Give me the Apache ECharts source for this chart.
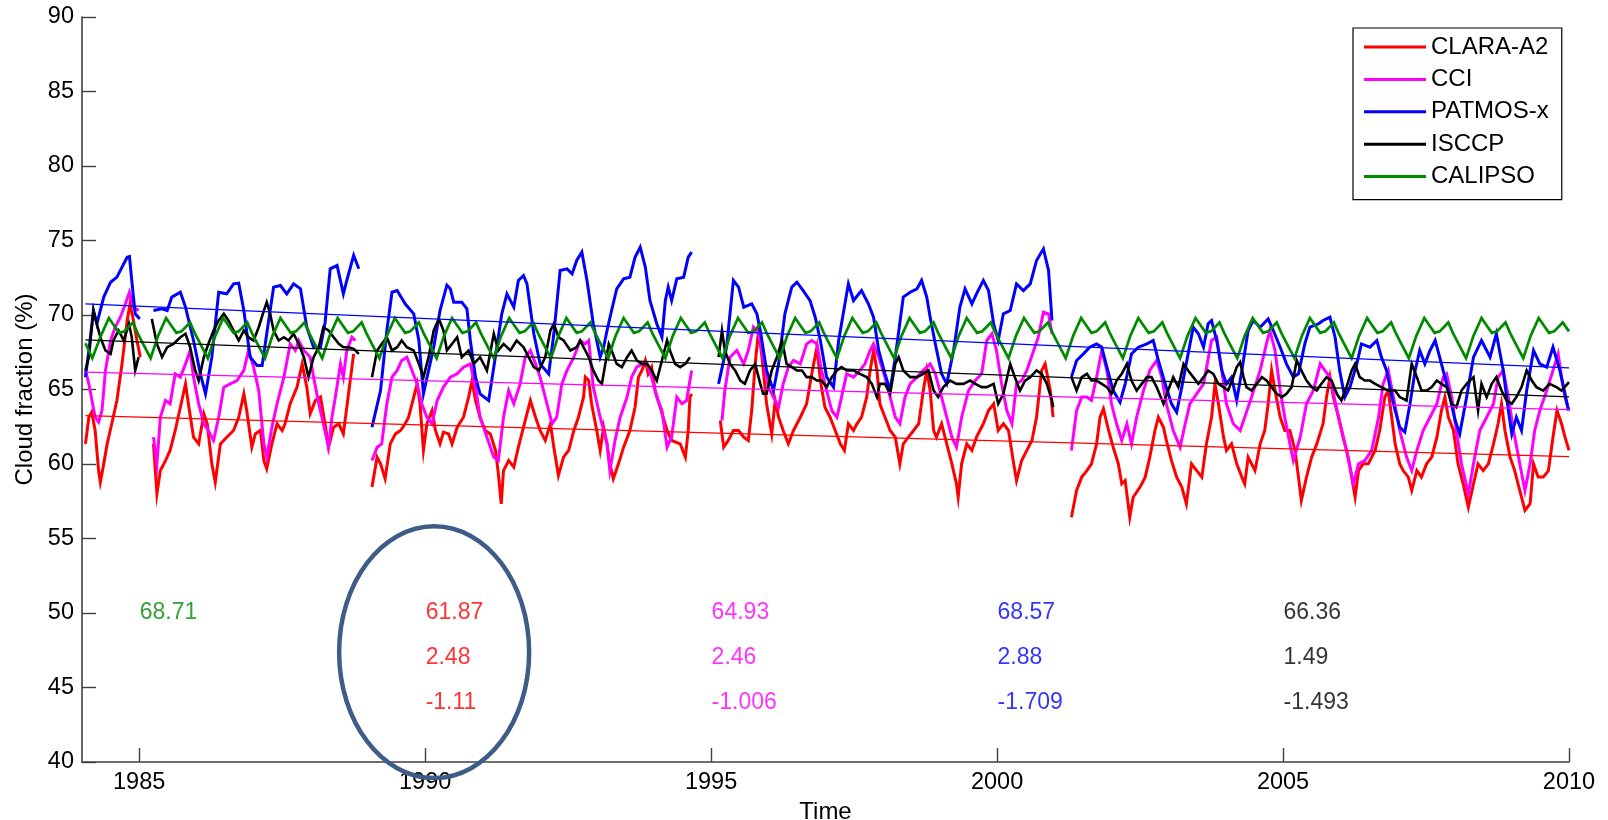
<!DOCTYPE html>
<html>
<head>
<meta charset="utf-8">
<script src="https://cdn.jsdelivr.net/npm/echarts@6/dist/echarts.min.js"></script>
<style>html,body{margin:0;padding:0;background:#fff;}#chart{width:1608px;height:820px;}</style>
</head>
<body>
<div id="chart"></div>
<script>
// ---------------- DATA ----------------
const seriesNames = ['CLARA-A2', 'CCI', 'PATMOS-x', 'ISCCP', 'CALIPSO'];
const seriesColors = ['#ff0000', '#ff00ff', '#0000ff', '#000000', '#008a00'];
const xTicks = [1985, 1990, 1995, 2000, 2005, 2010];

// CLARA-A2 (segments separated by data gaps)
const claraSeg1 = [[1984.06,61.35],[1984.12,63.14],[1984.17,63.48],[1984.23,62.25],[1984.29,59.56],[1984.32,58.78],[1984.38,60.01],[1984.44,61.35],[1984.52,62.70],[1984.61,64.26],[1984.70,66.72],[1984.79,69.63],[1984.84,70.75],[1984.90,69.63],[1984.96,68.29],[1985.02,67.17]];
const claraSeg2 = [[1985.25,61.35],[1985.31,58.00],[1985.37,59.56],[1985.46,60.23],[1985.54,60.91],[1985.63,62.25],[1985.72,63.81],[1985.81,65.38],[1985.86,64.04],[1985.95,61.80],[1986.04,61.35],[1986.13,63.37],[1986.19,62.70],[1986.27,60.01],[1986.33,58.78],[1986.42,61.35],[1986.53,61.80],[1986.65,62.25],[1986.74,63.14],[1986.83,64.71],[1986.88,63.59],[1986.97,61.13],[1987.03,62.02],[1987.12,62.25],[1987.18,60.23],[1987.23,59.67],[1987.32,61.35],[1987.41,62.70],[1987.50,62.25],[1987.55,62.70],[1987.64,64.04],[1987.76,65.16],[1987.85,66.72],[1987.93,65.16],[1987.99,63.37],[1988.08,64.26],[1988.17,64.49],[1988.25,62.70],[1988.31,61.13],[1988.40,62.47],[1988.49,62.70],[1988.57,62.02],[1988.66,64.71],[1988.75,67.39]];
const claraSeg3 = [[1989.07,58.45],[1989.16,60.46],[1989.22,60.01],[1989.30,59.01],[1989.39,61.35],[1989.48,62.02],[1989.57,62.25],[1989.65,62.70],[1989.71,63.14],[1989.80,64.49],[1989.86,65.38],[1989.91,64.04],[1989.97,60.91],[1990.03,62.70],[1990.12,63.59],[1990.18,62.25],[1990.26,61.35],[1990.32,62.13],[1990.41,62.02],[1990.47,61.35],[1990.56,62.47],[1990.67,63.14],[1990.76,64.49],[1990.82,65.60],[1990.88,64.26],[1990.96,63.14],[1991.05,62.25],[1991.14,62.02],[1991.23,60.91],[1991.28,59.34],[1991.33,57.33],[1991.37,59.56],[1991.46,60.23],[1991.55,59.79],[1991.63,61.13],[1991.75,62.92],[1991.84,64.26],[1991.93,63.14],[1992.01,62.25],[1992.10,61.58],[1992.19,62.70],[1992.25,61.13],[1992.33,59.23],[1992.42,60.46],[1992.51,60.91],[1992.60,62.25],[1992.68,63.14],[1992.77,64.50],[1992.80,65.83],[1992.86,65.60],[1992.91,64.04],[1993.00,62.25],[1993.06,60.91],[1993.12,62.47],[1993.18,61.35],[1993.23,60.01],[1993.29,59.01],[1993.38,60.01],[1993.47,61.13],[1993.58,62.25],[1993.67,63.81],[1993.73,65.83],[1993.79,66.28],[1993.85,66.95],[1993.90,66.05],[1993.96,66.50],[1994.02,64.93],[1994.11,63.81],[1994.23,62.25],[1994.31,61.58],[1994.46,61.35],[1994.55,60.46],[1994.60,62.25],[1994.63,64.49],[1994.66,64.71]];
const claraSeg4 = [[1995.16,62.92],[1995.22,61.13],[1995.30,61.58],[1995.39,62.25],[1995.48,62.25],[1995.57,61.80],[1995.65,61.58],[1995.71,63.59],[1995.77,66.72],[1995.83,68.96],[1995.89,67.17],[1995.97,64.04],[1996.06,62.02],[1996.12,64.26],[1996.18,63.14],[1996.26,62.25],[1996.35,61.35],[1996.44,62.25],[1996.56,63.14],[1996.67,64.04],[1996.76,66.05],[1996.85,67.84],[1996.91,65.60],[1996.99,63.81],[1997.08,63.14],[1997.17,62.25],[1997.26,61.35],[1997.33,60.91],[1997.40,62.70],[1997.49,62.25],[1997.55,62.70],[1997.63,63.14],[1997.72,64.49],[1997.78,66.28],[1997.84,67.62],[1997.90,66.28],[1997.95,64.04],[1998.04,63.14],[1998.13,62.25],[1998.22,61.80],[1998.30,60.01],[1998.36,61.35],[1998.45,61.80],[1998.54,62.25],[1998.63,62.70],[1998.71,64.93],[1998.77,66.28],[1998.83,64.93],[1998.89,62.25],[1998.94,61.80],[1999.03,62.70],[1999.12,61.35],[1999.21,60.01],[1999.29,58.67],[1999.32,57.77],[1999.38,60.01],[1999.47,61.35],[1999.56,60.91],[1999.64,61.80],[1999.76,62.70],[1999.85,63.59],[1999.94,64.04],[2000.02,62.25],[2000.11,62.70],[2000.20,62.25],[2000.29,60.01],[2000.34,58.89],[2000.43,60.23],[2000.52,60.91],[2000.61,61.58],[2000.69,63.14],[2000.78,66.28],[2000.84,66.72],[2000.93,64.93],[2000.98,63.14]];
const claraSeg5 = [[2001.30,56.43],[2001.39,58.22],[2001.48,59.12],[2001.57,59.56],[2001.65,60.01],[2001.74,61.35],[2001.80,63.14],[2001.86,63.70],[2001.95,62.25],[2002.03,61.13],[2002.12,60.01],[2002.18,58.67],[2002.24,58.89],[2002.32,56.43],[2002.38,57.77],[2002.50,58.45],[2002.59,59.12],[2002.67,60.46],[2002.76,62.25],[2002.82,63.14],[2002.91,62.47],[2002.96,61.58],[2003.05,60.23],[2003.14,59.12],[2003.23,58.45],[2003.31,57.33],[2003.40,60.01],[2003.49,59.56],[2003.58,59.12],[2003.66,61.35],[2003.75,63.14],[2003.81,65.38],[2003.87,64.04],[2003.96,61.80],[2004.01,60.91],[2004.10,61.35],[2004.19,60.01],[2004.28,59.12],[2004.33,58.67],[2004.39,60.46],[2004.45,60.01],[2004.51,59.56],[2004.60,61.35],[2004.68,62.25],[2004.74,64.04],[2004.80,66.28],[2004.86,64.93],[2004.95,63.14],[2005.03,62.25],[2005.12,62.25],[2005.21,60.91],[2005.27,59.12],[2005.32,57.55],[2005.41,59.12],[2005.50,60.46],[2005.59,61.35],[2005.70,62.70],[2005.76,64.49],[2005.82,65.83],[2005.88,64.49],[2005.97,63.14],[2006.05,61.80],[2006.14,60.46],[2006.20,59.12],[2006.26,57.77],[2006.32,59.56],[2006.40,60.01],[2006.49,60.01],[2006.61,60.91],[2006.69,62.25],[2006.78,64.49],[2006.84,64.93],[2006.90,63.14],[2006.96,61.35],[2007.04,60.01],[2007.10,59.56],[2007.19,59.12],[2007.25,58.22],[2007.34,59.56],[2007.42,59.12],[2007.51,60.01],[2007.60,60.46],[2007.69,61.80],[2007.77,63.59],[2007.83,64.49],[2007.89,63.14],[2007.98,62.25],[2008.06,60.01],[2008.15,58.67],[2008.24,57.10],[2008.33,58.67],[2008.41,60.01],[2008.50,59.56],[2008.59,60.01],[2008.68,61.35],[2008.76,62.70],[2008.82,64.04],[2008.88,62.25],[2008.97,60.46],[2009.05,59.56],[2009.14,58.22],[2009.23,56.88],[2009.32,57.33],[2009.38,60.01],[2009.46,59.12],[2009.55,59.12],[2009.64,59.56],[2009.72,61.80],[2009.79,63.59],[2009.87,62.70],[2009.93,61.80],[2010.00,60.91]];

// CCI
const cciSeg1 = [[1984.06,66.28],[1984.12,65.38],[1984.23,63.14],[1984.29,62.81],[1984.35,63.59],[1984.41,66.28],[1984.50,68.29],[1984.58,69.18],[1984.67,69.85],[1984.76,70.75],[1984.83,71.53],[1984.90,70.53],[1984.99,70.30]];
const cciSeg2 = [[1985.25,61.80],[1985.31,60.01],[1985.37,63.14],[1985.46,64.26],[1985.54,64.04],[1985.63,66.05],[1985.72,65.83],[1985.81,66.72],[1985.89,67.62],[1985.95,65.83],[1986.04,64.04],[1986.13,62.70],[1986.21,62.25],[1986.30,61.58],[1986.39,63.14],[1986.48,65.16],[1986.59,65.38],[1986.71,65.60],[1986.83,66.28],[1986.91,67.62],[1987.00,66.50],[1987.09,64.93],[1987.18,61.35],[1987.23,60.46],[1987.32,62.47],[1987.41,64.04],[1987.53,65.83],[1987.64,68.06],[1987.73,67.62],[1987.79,68.29],[1987.88,67.62],[1987.99,67.17],[1988.05,65.83],[1988.14,64.04],[1988.22,62.70],[1988.31,61.13],[1988.37,63.14],[1988.43,64.49],[1988.52,66.72],[1988.57,65.83],[1988.63,67.62],[1988.72,68.51],[1988.78,68.29]];
const cciSeg3 = [[1989.07,60.23],[1989.16,61.13],[1989.24,61.35],[1989.33,64.04],[1989.42,65.83],[1989.51,66.28],[1989.59,66.95],[1989.68,67.17],[1989.77,66.28],[1989.86,65.38],[1989.94,64.04],[1990.03,63.14],[1990.12,62.70],[1990.21,64.26],[1990.32,65.16],[1990.44,65.83],[1990.56,66.05],[1990.67,66.50],[1990.79,66.72],[1990.88,65.16],[1990.96,63.14],[1991.08,61.80],[1991.20,60.46],[1991.28,60.23],[1991.37,63.14],[1991.46,64.93],[1991.55,64.04],[1991.66,65.38],[1991.75,67.17],[1991.84,67.62],[1991.93,66.72],[1992.01,65.83],[1992.13,64.04],[1992.22,62.70],[1992.30,63.14],[1992.39,65.38],[1992.48,66.28],[1992.60,67.17],[1992.71,68.29],[1992.80,68.06],[1992.86,68.29],[1992.94,65.16],[1993.06,63.14],[1993.18,61.35],[1993.23,59.56],[1993.32,61.58],[1993.41,63.14],[1993.53,64.49],[1993.61,65.83],[1993.70,66.50],[1993.79,66.72],[1993.88,66.72],[1993.96,65.83],[1994.05,64.49],[1994.14,63.59],[1994.23,61.13],[1994.31,61.80],[1994.40,64.49],[1994.49,64.04],[1994.57,64.26],[1994.66,66.28]];
const cciSeg4 = [[1995.19,62.92],[1995.24,64.93],[1995.33,67.17],[1995.45,67.62],[1995.57,66.72],[1995.65,67.62],[1995.74,69.18],[1995.83,68.74],[1995.91,67.17],[1996.00,65.16],[1996.09,64.49],[1996.18,63.81],[1996.26,65.38],[1996.35,66.50],[1996.44,66.95],[1996.56,66.72],[1996.67,68.06],[1996.76,68.29],[1996.85,68.06],[1996.93,66.28],[1997.02,64.93],[1997.11,63.59],[1997.20,63.14],[1997.28,64.49],[1997.37,66.05],[1997.49,65.83],[1997.60,66.28],[1997.69,66.72],[1997.78,67.62],[1997.84,68.06],[1997.93,67.17],[1998.04,65.83],[1998.13,64.49],[1998.22,63.14],[1998.30,62.70],[1998.39,64.49],[1998.48,65.38],[1998.60,65.83],[1998.71,66.28],[1998.83,66.72],[1998.92,66.05],[1999.00,64.93],[1999.12,63.14],[1999.21,61.80],[1999.29,61.13],[1999.38,63.14],[1999.50,64.93],[1999.62,65.60],[1999.73,66.05],[1999.82,68.29],[1999.91,68.74],[1999.99,67.62],[2000.08,65.38],[2000.17,63.59],[2000.26,62.70],[2000.34,65.38],[2000.43,65.60],[2000.52,66.28],[2000.64,67.62],[2000.72,68.51],[2000.81,70.19],[2000.90,70.08],[2000.96,68.74]];
const cciSeg5 = [[2001.30,60.91],[2001.39,63.59],[2001.48,64.49],[2001.57,64.49],[2001.65,64.26],[2001.74,65.83],[2001.83,67.62],[2001.92,66.28],[2002.00,64.04],[2002.09,62.70],[2002.18,61.58],[2002.27,62.70],[2002.35,61.35],[2002.44,63.14],[2002.56,64.93],[2002.67,66.28],[2002.79,66.95],[2002.88,65.83],[2002.96,64.04],[2003.08,62.25],[2003.20,61.13],[2003.29,62.70],[2003.37,64.04],[2003.49,64.71],[2003.61,65.38],[2003.75,68.29],[2003.84,68.51],[2003.93,66.28],[2004.01,64.04],[2004.13,62.70],[2004.25,62.25],[2004.33,63.14],[2004.45,64.49],[2004.60,66.28],[2004.71,68.06],[2004.77,68.96],[2004.86,67.62],[2004.95,64.93],[2005.03,63.14],[2005.12,61.35],[2005.18,60.23],[2005.30,61.80],[2005.41,64.04],[2005.53,64.93],[2005.65,66.72],[2005.73,66.28],[2005.82,65.83],[2005.97,63.14],[2006.11,60.91],[2006.23,58.67],[2006.32,60.01],[2006.43,60.23],[2006.55,60.91],[2006.67,63.14],[2006.75,65.38],[2006.84,66.28],[2006.93,64.49],[2007.04,62.25],[2007.16,60.46],[2007.25,59.56],[2007.34,60.91],[2007.45,62.25],[2007.57,63.14],[2007.69,64.04],[2007.80,65.83],[2007.86,66.05],[2007.95,64.49],[2008.03,62.25],[2008.12,60.01],[2008.24,58.00],[2008.33,60.01],[2008.44,62.25],[2008.56,63.14],[2008.68,64.04],[2008.76,65.83],[2008.85,66.28],[2008.94,64.49],[2009.03,62.25],[2009.14,60.01],[2009.23,58.22],[2009.32,60.01],[2009.40,62.25],[2009.49,63.59],[2009.61,64.93],[2009.72,66.28],[2009.81,67.39],[2009.87,65.83],[2009.93,64.49],[2010.00,63.59]];

// PATMOS-x
const patmosSeg1 = [[1984.06,65.83],[1984.12,67.60],[1984.20,70.30],[1984.26,69.41],[1984.38,71.20],[1984.50,72.20],[1984.61,72.54],[1984.70,73.21],[1984.79,73.88],[1984.83,73.93],[1984.87,72.32],[1984.93,70.08],[1985.01,69.74]];
const patmosSeg2 = [[1985.25,70.30],[1985.40,70.41],[1985.49,70.30],[1985.57,71.20],[1985.72,71.53],[1985.81,70.53],[1985.95,68.29],[1986.07,66.05],[1986.16,64.71],[1986.27,67.17],[1986.39,71.53],[1986.53,71.42],[1986.65,72.09],[1986.74,72.14],[1986.83,70.30],[1986.94,67.17],[1987.06,66.61],[1987.15,66.61],[1987.23,68.74],[1987.35,71.87],[1987.47,71.98],[1987.58,71.42],[1987.70,72.09],[1987.82,71.76],[1987.93,69.18],[1988.05,67.84],[1988.17,67.84],[1988.25,69.50],[1988.34,73.10],[1988.46,73.32],[1988.57,71.42],[1988.63,72.32],[1988.75,74.00],[1988.84,73.10]];
const patmosSeg3 = [[1989.07,62.47],[1989.22,64.93],[1989.33,68.96],[1989.42,71.53],[1989.51,71.64],[1989.65,70.75],[1989.80,70.08],[1989.89,68.29],[1989.97,64.71],[1990.06,66.28],[1990.15,67.84],[1990.26,70.30],[1990.38,72.00],[1990.44,71.76],[1990.50,70.86],[1990.64,70.86],[1990.73,70.41],[1990.79,68.29],[1990.88,65.83],[1990.96,64.71],[1991.11,64.26],[1991.20,66.50],[1991.34,70.08],[1991.43,71.42],[1991.55,70.53],[1991.63,72.32],[1991.72,72.65],[1991.78,72.09],[1991.90,68.74],[1992.01,66.72],[1992.16,66.05],[1992.25,68.74],[1992.36,72.99],[1992.48,73.10],[1992.57,72.76],[1992.65,73.66],[1992.74,74.22],[1992.83,72.32],[1992.94,69.41],[1993.06,67.17],[1993.12,67.84],[1993.18,68.96],[1993.26,70.30],[1993.35,71.76],[1993.47,72.43],[1993.58,72.54],[1993.67,73.88],[1993.76,74.55],[1993.85,73.21],[1993.93,70.97],[1994.05,69.41],[1994.14,68.51],[1994.20,70.97],[1994.25,71.87],[1994.31,70.97],[1994.40,72.43],[1994.52,72.54],[1994.60,73.88],[1994.66,74.22]];
const patmosSeg4 = [[1995.13,65.38],[1995.27,67.84],[1995.39,72.32],[1995.48,71.87],[1995.57,70.53],[1995.71,70.75],[1995.80,70.08],[1995.86,68.96],[1995.97,66.28],[1996.09,64.93],[1996.18,66.72],[1996.29,70.08],[1996.41,71.87],[1996.50,72.20],[1996.61,71.64],[1996.73,70.97],[1996.82,69.85],[1996.91,68.29],[1997.02,65.83],[1997.14,65.16],[1997.23,68.29],[1997.31,70.08],[1997.40,72.09],[1997.49,70.97],[1997.63,71.64],[1997.75,70.75],[1997.84,69.85],[1997.93,67.62],[1998.04,66.05],[1998.13,64.93],[1998.22,67.17],[1998.36,71.20],[1998.48,71.53],[1998.60,71.76],[1998.68,72.32],[1998.77,71.20],[1998.83,69.85],[1998.92,68.06],[1999.03,66.05],[1999.12,65.38],[1999.24,67.62],[1999.35,70.53],[1999.44,71.76],[1999.56,70.75],[1999.64,71.42],[1999.76,72.32],[1999.85,71.64],[1999.94,69.41],[2000.02,68.29],[2000.11,70.08],[2000.23,70.30],[2000.34,72.09],[2000.46,71.64],[2000.58,72.09],[2000.69,73.66],[2000.81,74.44],[2000.90,72.99],[2000.96,69.63]];
const patmosSeg5 = [[2001.30,65.83],[2001.39,66.95],[2001.51,67.39],[2001.62,67.84],[2001.74,68.06],[2001.83,67.84],[2001.92,66.50],[2002.03,64.93],[2002.15,64.15],[2002.24,65.38],[2002.35,67.39],[2002.47,67.84],[2002.62,68.06],[2002.73,68.29],[2002.82,66.95],[2002.94,65.38],[2003.05,64.04],[2003.14,63.48],[2003.23,65.16],[2003.34,67.39],[2003.43,69.18],[2003.52,68.74],[2003.61,67.84],[2003.69,69.41],[2003.75,69.63],[2003.84,68.29],[2003.93,66.28],[2004.01,65.38],[2004.10,65.83],[2004.19,64.26],[2004.28,66.28],[2004.39,68.96],[2004.48,69.63],[2004.60,69.18],[2004.74,69.74],[2004.83,68.96],[2004.95,67.84],[2005.06,66.72],[2005.18,65.83],[2005.27,66.05],[2005.38,68.06],[2005.47,69.18],[2005.62,69.41],[2005.70,69.63],[2005.82,69.85],[2005.91,68.51],[2005.99,66.28],[2006.08,64.49],[2006.17,65.16],[2006.29,66.72],[2006.37,68.06],[2006.52,67.84],[2006.64,68.29],[2006.72,67.17],[2006.81,66.28],[2006.93,64.04],[2007.04,62.47],[2007.13,62.14],[2007.22,64.04],[2007.31,66.28],[2007.39,67.62],[2007.48,66.72],[2007.57,67.62],[2007.66,68.29],[2007.77,66.72],[2007.89,64.93],[2008.01,62.92],[2008.09,62.02],[2008.21,64.49],[2008.33,67.17],[2008.47,68.29],[2008.62,67.17],[2008.73,68.74],[2008.85,66.28],[2008.94,63.59],[2009.00,62.02],[2009.08,63.14],[2009.17,62.25],[2009.26,64.93],[2009.38,67.62],[2009.49,66.72],[2009.61,66.50],[2009.72,67.84],[2009.84,66.28],[2009.93,64.71],[2009.99,63.59]];

// ISCCP
const isccpSeg1 = [[1984.06,66.28],[1984.12,67.17],[1984.20,70.30],[1984.26,69.41],[1984.32,68.51],[1984.41,67.62],[1984.50,67.39],[1984.55,68.29],[1984.64,68.96],[1984.73,68.29],[1984.82,69.41],[1984.87,68.51],[1984.93,66.28],[1984.99,67.17]];
const isccpSeg2 = [[1985.22,69.74],[1985.31,68.06],[1985.40,67.17],[1985.49,67.84],[1985.60,68.06],[1985.72,68.51],[1985.81,68.74],[1985.89,67.84],[1985.98,66.28],[1986.04,65.60],[1986.13,67.17],[1986.21,68.06],[1986.30,68.96],[1986.39,69.63],[1986.48,70.08],[1986.56,69.63],[1986.65,68.96],[1986.74,68.29],[1986.83,68.96],[1986.91,68.51],[1987.00,68.29],[1987.09,69.18],[1987.18,70.30],[1987.23,70.86],[1987.29,70.08],[1987.35,68.96],[1987.44,68.29],[1987.53,68.51],[1987.61,68.29],[1987.70,68.74],[1987.79,68.06],[1987.88,67.17],[1987.96,65.83],[1988.05,67.17],[1988.14,67.84],[1988.22,69.18],[1988.31,68.96],[1988.40,68.51],[1988.49,68.06],[1988.57,67.84],[1988.66,67.84],[1988.75,67.73],[1988.84,67.39]];
const isccpSeg3 = [[1989.07,65.83],[1989.16,67.62],[1989.24,68.06],[1989.33,68.51],[1989.42,67.62],[1989.51,67.84],[1989.59,68.29],[1989.68,67.84],[1989.80,67.62],[1989.89,66.72],[1989.97,65.83],[1990.06,67.17],[1990.15,68.96],[1990.24,69.74],[1990.32,68.96],[1990.38,67.62],[1990.47,68.06],[1990.56,68.51],[1990.64,67.17],[1990.76,67.62],[1990.85,66.72],[1990.96,67.17],[1991.08,66.28],[1991.20,68.74],[1991.28,67.62],[1991.37,68.06],[1991.49,67.62],[1991.60,68.29],[1991.72,67.84],[1991.81,67.17],[1991.90,66.50],[1991.99,66.28],[1992.10,67.17],[1992.19,68.96],[1992.25,69.41],[1992.33,68.51],[1992.42,68.29],[1992.54,67.62],[1992.65,67.84],[1992.71,68.29],[1992.77,67.84],[1992.86,67.17],[1992.94,66.28],[1993.03,65.60],[1993.09,65.38],[1993.15,66.72],[1993.21,68.06],[1993.26,67.62],[1993.35,66.72],[1993.44,66.50],[1993.53,67.17],[1993.61,67.62],[1993.70,66.95],[1993.79,66.72],[1993.88,66.72],[1993.96,66.28],[1994.05,65.60],[1994.14,66.95],[1994.23,68.29],[1994.28,67.62],[1994.37,66.72],[1994.46,66.50],[1994.55,66.72],[1994.63,67.17]];
const isccpSeg4 = [[1995.13,67.17],[1995.19,68.96],[1995.24,67.62],[1995.33,66.72],[1995.42,66.28],[1995.51,65.60],[1995.59,65.38],[1995.68,66.28],[1995.77,66.72],[1995.86,65.38],[1995.91,64.71],[1995.97,64.71],[1996.06,66.28],[1996.15,67.17],[1996.24,68.29],[1996.32,66.72],[1996.41,66.50],[1996.50,66.28],[1996.59,66.28],[1996.67,65.83],[1996.76,65.83],[1996.85,65.60],[1996.93,65.60],[1997.02,65.16],[1997.11,65.83],[1997.20,66.28],[1997.28,66.50],[1997.37,66.28],[1997.49,66.28],[1997.60,66.05],[1997.72,65.83],[1997.81,65.38],[1997.90,64.49],[1997.95,65.38],[1998.04,65.38],[1998.13,64.71],[1998.22,66.72],[1998.28,67.17],[1998.36,66.28],[1998.48,65.83],[1998.60,65.83],[1998.71,66.05],[1998.80,66.28],[1998.89,64.93],[1998.97,64.49],[1999.06,65.16],[1999.18,65.60],[1999.29,65.38],[1999.41,65.38],[1999.53,65.60],[1999.62,65.38],[1999.73,65.16],[1999.82,65.16],[1999.94,65.38],[2000.02,64.04],[2000.11,64.71],[2000.23,66.72],[2000.31,65.83],[2000.40,64.93],[2000.49,65.60],[2000.58,65.83],[2000.69,66.28],[2000.78,66.05],[2000.87,65.38],[2000.96,64.26],[2000.98,63.81]];
const isccpSeg5 = [[2001.30,65.83],[2001.39,64.93],[2001.48,65.83],[2001.57,66.05],[2001.65,65.60],[2001.74,65.60],[2001.83,65.38],[2001.92,65.16],[2002.00,64.71],[2002.09,65.60],[2002.18,66.05],[2002.27,66.72],[2002.35,65.60],[2002.44,64.93],[2002.53,65.38],[2002.62,65.83],[2002.70,65.83],[2002.79,65.16],[2002.91,64.04],[2002.99,64.93],[2003.08,65.83],[2003.17,65.16],[2003.26,66.72],[2003.34,66.28],[2003.43,65.83],[2003.52,65.38],[2003.61,65.83],[2003.69,66.28],[2003.78,66.05],[2003.87,65.38],[2003.96,65.16],[2004.04,64.93],[2004.13,65.83],[2004.19,66.50],[2004.25,66.84],[2004.31,65.83],[2004.36,65.16],[2004.45,64.93],[2004.54,65.38],[2004.63,65.83],[2004.71,65.60],[2004.80,65.16],[2004.89,64.71],[2004.98,64.49],[2005.06,64.71],[2005.15,65.16],[2005.24,66.95],[2005.32,66.28],[2005.41,65.60],[2005.50,65.16],[2005.59,64.93],[2005.67,65.38],[2005.76,65.83],[2005.85,65.60],[2005.94,64.71],[2006.02,64.26],[2006.11,65.16],[2006.20,66.28],[2006.26,66.72],[2006.34,65.83],[2006.43,65.60],[2006.52,65.60],[2006.61,65.38],[2006.72,65.16],[2006.84,64.93],[2006.96,64.93],[2007.04,64.49],[2007.16,64.26],[2007.25,66.72],[2007.34,65.83],[2007.42,64.93],[2007.51,64.93],[2007.60,65.16],[2007.69,65.60],[2007.77,65.38],[2007.86,65.16],[2007.95,64.04],[2008.03,63.81],[2008.12,64.93],[2008.21,65.38],[2008.33,65.83],[2008.41,63.59],[2008.47,65.38],[2008.56,64.49],[2008.65,65.38],[2008.73,65.83],[2008.82,64.93],[2008.91,64.26],[2009.00,64.04],[2009.08,64.49],[2009.17,65.16],[2009.26,66.28],[2009.35,65.60],[2009.43,65.16],[2009.55,64.93],[2009.66,65.38],[2009.78,65.16],[2009.87,64.93],[2010.00,65.49]];

// CALIPSO (continuous)
const calipso = [
[1984.06,68.1],[1984.18,67.1],[1984.33,68.6],[1984.47,69.8],[1984.56,69.3],[1984.65,68.8],[1984.74,68.9],[1984.89,69.5],[1984.97,68.8],
[1985.05,68.2],[1985.20,67.1],[1985.33,68.6],[1985.47,69.8],[1985.56,69.3],[1985.65,68.8],[1985.74,68.9],[1985.89,69.5],[1985.97,68.8],
[1986.05,68.2],[1986.20,67.1],[1986.33,68.6],[1986.47,69.8],[1986.56,69.3],[1986.65,68.8],[1986.74,68.9],[1986.89,69.5],[1986.97,68.8],
[1987.05,68.2],[1987.20,67.1],[1987.33,68.6],[1987.47,69.8],[1987.56,69.3],[1987.65,68.8],[1987.74,68.9],[1987.89,69.5],[1987.97,68.8],
[1988.05,68.2],[1988.20,67.1],[1988.33,68.6],[1988.47,69.8],[1988.56,69.3],[1988.65,68.8],[1988.74,68.9],[1988.89,69.5],[1988.97,68.8],
[1989.05,68.2],[1989.20,67.1],[1989.33,68.6],[1989.47,69.8],[1989.56,69.3],[1989.65,68.8],[1989.74,68.9],[1989.89,69.5],[1989.97,68.8],
[1990.05,68.2],[1990.20,67.1],[1990.33,68.6],[1990.47,69.8],[1990.56,69.3],[1990.65,68.8],[1990.74,68.9],[1990.89,69.5],[1990.97,68.8],
[1991.05,68.2],[1991.20,67.1],[1991.33,68.6],[1991.47,69.8],[1991.56,69.3],[1991.65,68.8],[1991.74,68.9],[1991.89,69.5],[1991.97,68.8],
[1992.05,68.2],[1992.20,67.1],[1992.33,68.6],[1992.47,69.8],[1992.56,69.3],[1992.65,68.8],[1992.74,68.9],[1992.89,69.5],[1992.97,68.8],
[1993.05,68.2],[1993.20,67.1],[1993.33,68.6],[1993.47,69.8],[1993.56,69.3],[1993.65,68.8],[1993.74,68.9],[1993.89,69.5],[1993.97,68.8],
[1994.05,68.2],[1994.20,67.1],[1994.33,68.6],[1994.47,69.8],[1994.56,69.3],[1994.65,68.8],[1994.74,68.9],[1994.89,69.5],[1994.97,68.8],
[1995.05,68.2],[1995.20,67.1],[1995.33,68.6],[1995.47,69.8],[1995.56,69.3],[1995.65,68.8],[1995.74,68.9],[1995.89,69.5],[1995.97,68.8],
[1996.05,68.2],[1996.20,67.1],[1996.33,68.6],[1996.47,69.8],[1996.56,69.3],[1996.65,68.8],[1996.74,68.9],[1996.89,69.5],[1996.97,68.8],
[1997.05,68.2],[1997.20,67.1],[1997.33,68.6],[1997.47,69.8],[1997.56,69.3],[1997.65,68.8],[1997.74,68.9],[1997.89,69.5],[1997.97,68.8],
[1998.05,68.2],[1998.20,67.1],[1998.33,68.6],[1998.47,69.8],[1998.56,69.3],[1998.65,68.8],[1998.74,68.9],[1998.89,69.5],[1998.97,68.8],
[1999.05,68.2],[1999.20,67.1],[1999.33,68.6],[1999.47,69.8],[1999.56,69.3],[1999.65,68.8],[1999.74,68.9],[1999.89,69.5],[1999.97,68.8],
[2000.05,68.2],[2000.20,67.1],[2000.33,68.6],[2000.47,69.8],[2000.56,69.3],[2000.65,68.8],[2000.74,68.9],[2000.89,69.5],[2000.97,68.8],
[2001.05,68.2],[2001.20,67.1],[2001.33,68.6],[2001.47,69.8],[2001.56,69.3],[2001.65,68.8],[2001.74,68.9],[2001.89,69.5],[2001.97,68.8],
[2002.05,68.2],[2002.20,67.1],[2002.33,68.6],[2002.47,69.8],[2002.56,69.3],[2002.65,68.8],[2002.74,68.9],[2002.89,69.5],[2002.97,68.8],
[2003.05,68.2],[2003.20,67.1],[2003.33,68.6],[2003.47,69.8],[2003.56,69.3],[2003.65,68.8],[2003.74,68.9],[2003.89,69.5],[2003.97,68.8],
[2004.05,68.2],[2004.20,67.1],[2004.33,68.6],[2004.47,69.8],[2004.56,69.3],[2004.65,68.8],[2004.74,68.9],[2004.89,69.5],[2004.97,68.8],
[2005.05,68.2],[2005.20,67.1],[2005.33,68.6],[2005.47,69.8],[2005.56,69.3],[2005.65,68.8],[2005.74,68.9],[2005.89,69.5],[2005.97,68.8],
[2006.05,68.2],[2006.20,67.1],[2006.33,68.6],[2006.47,69.8],[2006.56,69.3],[2006.65,68.8],[2006.74,68.9],[2006.89,69.5],[2006.97,68.8],
[2007.05,68.2],[2007.20,67.1],[2007.33,68.6],[2007.47,69.8],[2007.56,69.3],[2007.65,68.8],[2007.74,68.9],[2007.89,69.5],[2007.97,68.8],
[2008.05,68.2],[2008.20,67.1],[2008.33,68.6],[2008.47,69.8],[2008.56,69.3],[2008.65,68.8],[2008.74,68.9],[2008.89,69.5],[2008.97,68.8],
[2009.05,68.2],[2009.20,67.1],[2009.33,68.6],[2009.47,69.8],[2009.56,69.3],[2009.65,68.8],[2009.74,68.9],[2009.89,69.5],[2010.00,68.9]
];

// Linear trend lines (start / end)
const claraTrend = [[1984.06,63.25],[2010.00,60.50]];
const cciTrend = [[1984.06,66.16],[2010.00,63.65]];
const patmosTrend = [[1984.06,70.75],[2010.00,66.45]];
const isccpTrend = [[1984.06,68.33],[2010.00,64.50]];

// Annotation text (columns left-aligned at year, rows at y-values)
const annotYears = [1985, 1990, 1995, 2000, 2005];
const annotRowY = [50, 47, 44];
const annotMeans = ['68.71', '61.87', '64.93', '68.57', '66.36'];
const annotStd = ['', '2.48', '2.46', '2.88', '1.49'];
const annotTrend = ['', '-1.11', '-1.006', '-1.709', '-1.493'];
const annotColors = ['#008a00', '#ff0000', '#ff00ff', '#0000ff', '#000000'];

// Highlight ellipse (data coordinates)
const ellipseCenter = [1990.157, 47.37];
const ellipseRadius = [1.661, 8.45];

// ---------------- CHART ----------------
const FONT = "'Liberation Sans', Arial, Helvetica, sans-serif";
function joinSegs(segs) {
  const out = [];
  segs.forEach((s, i) => {
    if (i > 0) out.push([(segs[i-1][segs[i-1].length-1][0] + s[0][0]) / 2, null]);
    s.forEach(p => out.push(p));
  });
  return out;
}
const dataSets = [
  joinSegs([claraSeg1, claraSeg2, claraSeg3, claraSeg4, claraSeg5]),
  joinSegs([cciSeg1, cciSeg2, cciSeg3, cciSeg4, cciSeg5]),
  joinSegs([patmosSeg1, patmosSeg2, patmosSeg3, patmosSeg4, patmosSeg5]),
  joinSegs([isccpSeg1, isccpSeg2, isccpSeg3, isccpSeg4, isccpSeg5]),
  calipso
];
const widths = [3, 3, 3, 2.6, 2.7];
const series = seriesNames.map((n, i) => ({
  name: n, type: 'line', data: dataSets[i], showSymbol: false, symbol: 'none',
  connectNulls: false, color: seriesColors[i],
  lineStyle: { color: seriesColors[i], width: widths[i], join: 'miter' }, z: 2 + i
}));
[claraTrend, cciTrend, patmosTrend, isccpTrend].forEach((t, i) => {
  series.push({ name: 'trend' + i, type: 'line', data: t, symbol: 'none', silent: true,
    lineStyle: { color: seriesColors[i], width: 1.3 }, z: 10 });
});
const annotData = [];
annotYears.forEach((yr, i) => {
  [annotMeans[i], annotStd[i], annotTrend[i]].forEach((txt, r) => {
    if (txt) annotData.push({ value: [yr, annotRowY[r]], label: { formatter: txt, color: annotColors[i] } });
  });
});
series.push({
  name: 'annot', type: 'scatter', data: annotData, symbolSize: 1, silent: true,
  itemStyle: { color: 'transparent' },
  label: { show: true, position: 'right', distance: 0, fontSize: 23, fontFamily: FONT },
  z: 20
});

const chart = echarts.init(document.getElementById('chart'), null, { renderer: 'canvas' });
const axisColor = '#404040';
chart.setOption({
  animation: false,
  backgroundColor: '#ffffff',
  grid: { left: 82, right: 39, top: 17, bottom: 58, containLabel: false, outerBoundsMode: 'none' },
  legend: {
    data: seriesNames, orient: 'vertical', left: 1353, top: 28,
    icon: 'rect', itemWidth: 62, itemHeight: 3, itemGap: 8.4,
    padding: [7, 13, 11, 11], borderColor: '#000', borderWidth: 1.2,
    textStyle: { fontSize: 24, lineHeight: 24, color: '#000', fontFamily: FONT },
    selectedMode: false
  },
  xAxis: {
    type: 'value', min: 1984, max: 2010,
    name: 'Time', nameLocation: 'middle', nameGap: 36,
    nameTextStyle: { fontSize: 24, color: '#000', fontFamily: FONT },
    axisLine: { show: true, lineStyle: { color: axisColor, width: 1.6 } },
    axisTick: { show: true, inside: true, length: 14, customValues: xTicks, lineStyle: { color: axisColor, width: 1.4 } },
    axisLabel: { customValues: xTicks, formatter: v => String(v), fontSize: 23.5, color: '#000', fontFamily: FONT, margin: 9 },
    splitLine: { show: false }
  },
  yAxis: {
    type: 'value', min: 40, max: 90, interval: 5,
    name: 'Cloud fraction (%)', nameLocation: 'middle', nameGap: 44, nameRotate: 90,
    nameTextStyle: { fontSize: 24, color: '#000', fontFamily: FONT },
    axisLine: { show: true, lineStyle: { color: axisColor, width: 1.6 } },
    axisTick: { show: true, inside: true, length: 14, lineStyle: { color: axisColor, width: 1.4 } },
    axisLabel: { fontSize: 23.5, color: '#000', fontFamily: FONT, margin: 8 },
    splitLine: { show: false }
  },
  series: series
});

const c = chart.convertToPixel({ xAxisIndex: 0, yAxisIndex: 0 }, ellipseCenter);
const e = chart.convertToPixel({ xAxisIndex: 0, yAxisIndex: 0 },
  [ellipseCenter[0] + ellipseRadius[0], ellipseCenter[1] + ellipseRadius[1]]);
chart.setOption({
  graphic: [{
    type: 'ellipse', z: 100, silent: true,
    shape: { cx: c[0], cy: c[1], rx: Math.abs(e[0] - c[0]), ry: Math.abs(e[1] - c[1]) },
    style: { fill: 'none', stroke: '#3e5c87', lineWidth: 4.5 }
  }]
});
</script>
</body>
</html>
